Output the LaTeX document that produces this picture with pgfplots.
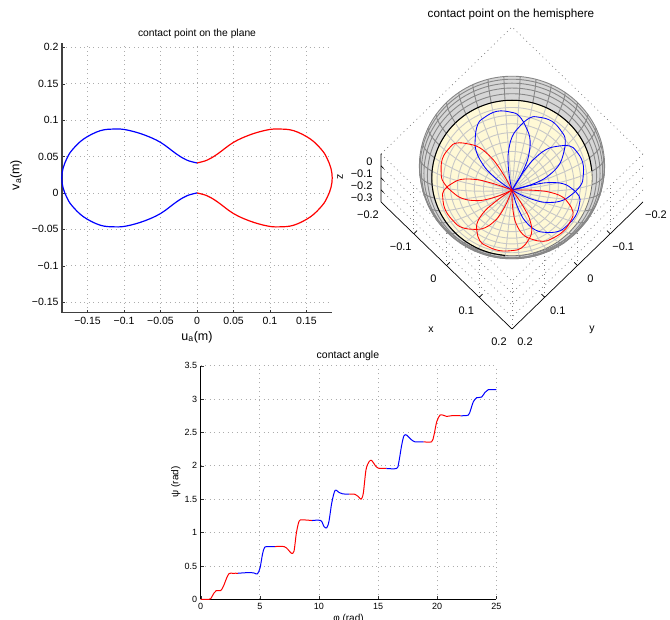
\documentclass[border=0pt]{standalone}
\usepackage{pgfplots}
\usepackage{pgfplotstable}
\usepackage{fontspec}
\setmainfont{Liberation Sans}
\pgfplotsset{compat=1.18}
\newcommand{\fs}[1]{\fontsize{#1}{#1}\selectfont}
\definecolor{cream}{RGB}{255,249,214}
\pgfplotsset{
  flatgrid/.style={grid=major, grid style={line width=.7pt, gray!65, dash pattern=on .9pt off 3.6pt},
    major tick length=3pt, tick align=inside, axis x line*=bottom, axis y line*=left, x axis line style={-}, y axis line style={-},
    tick style={black!80}, clip=false},
}
% unit circle, every 10 degrees
\pgfplotstableread{
c s
1 0
.9848 .1736
.9397 .3420
.8660 .5
.7660 .6428
.6428 .7660
.5 .8660
.3420 .9397
.1736 .9848
0 1
-.1736 .9848
-.3420 .9397
-.5 .8660
-.6428 .7660
-.7660 .6428
-.8660 .5
-.9397 .3420
-.9848 .1736
-1 0
-.9848 -.1736
-.9397 -.3420
-.8660 -.5
-.7660 -.6428
-.6428 -.7660
-.5 -.8660
-.3420 -.9397
-.1736 -.9848
0 -1
.1736 -.9848
.3420 -.9397
.5 -.8660
.6428 -.7660
.7660 -.6428
.8660 -.5
.9397 -.3420
.9848 -.1736
1 0
}\tabcirc
% hemisphere profile, inner part
\pgfplotstableread{
r z
0 -.2
.0209 -.1989
.0416 -.1956
.0618 -.1902
.0813 -.1827
.1 -.1732
.1176 -.1618
.1338 -.1486
.1486 -.1338
.1618 -.1176
.1732 -.1
}\tabinner
\pgfplotstableread{
r z
.1732 -.1
.1827 -.0813
.1902 -.0618
.1956 -.0416
.1989 -.0209
.2 0
}\tabouter
% one lobe of the contact curve on the hemisphere: angle from the lobe's peak, radius
\pgfplotstableread{
a r
-46 0
-45 .015
-44 .03
-41.5 .056
-38.6 .08
-33 .109
-26 .129
-18 .148
-11 .154
0 .158
11 .154
18 .148
26 .129
33 .109
38.6 .08
41.5 .056
44 .03
45 .015
46 0
}\tablobe
\newcommand{\ring}[3]{\addplot3[#3, smooth, tension=.55] table[z index=0, x expr=\thisrow{c}*#1, y expr=\thisrow{s}*#1, z expr=#2]{\tabcirc};}
\newcommand{\lobe}[2]{\addplot3[#2, line width=.85pt, smooth, tension=.7] table[z index=0, x expr={\thisrow{r}*cos(#1+\thisrow{a})}, y expr={\thisrow{r}*sin(#1+\thisrow{a})}, z expr={-sqrt(.04-\thisrow{r}*\thisrow{r})}]{\tablobe};}
\begin{document}
\begin{tikzpicture}[x=1pt,y=1pt]
\path[use as bounding box] (0,0) rectangle (670,620);
% ---------- plane
\begin{axis}[flatgrid, scale only axis, width=270pt, height=269.4pt,
  at={(62pt,307.3pt)}, anchor=south west,
  xmin=-.185, xmax=.185, ymin=-.1645, ymax=.2056,
  axis line style={line width=1.1pt, black!75},
  xtick={-.15,-.1,-.05,0,.05,.1,.15}, ytick={-.15,-.1,-.05,0,.05,.1,.15,.2},
  xticklabels={−0.15,−0.1,−0.05,0,0.05,0.1,0.15},
  yticklabels={−0.15,−0.1,−0.05,0,0.05,0.1,0.15,0.2},
  tick label style={font=\fs{10.5}}, xticklabel style={yshift=-1pt},
  title={\fs{10.3}contact point on the plane},
  title style={at={(axis description cs:.5,1.012)},anchor=center},
  xlabel={\fs{12.5}u\textsubscript{a}(m)},
  xlabel style={at={(axis description cs:.5,-.09)},anchor=center},
  ylabel={\fs{12.5}v\textsubscript{a}(m)},
  ylabel style={at={(axis description cs:-.17,.511)},anchor=center,rotate=0},
]
\addplot[red, line width=1.2pt, smooth, tension=.6] coordinates {(0,.0412)(.0137,.045)(.0274,.053)(.05,.0695)(.073,.08)(.096,.0865)(.112,.0878)(.1327,.0855)(.1555,.074)(.1715,.0585)(.1785,.047)(.1835,.034)(.1853,.0206)(.1835,.007)(.1785,-.006)(.1715,-.0173)(.1555,-.0328)(.1327,-.0443)(.112,-.0466)(.096,-.0453)(.073,-.0388)(.05,-.0283)(.0274,-.0118)(.0137,-.0038)(0,0)};
\addplot[blue, line width=1.2pt, smooth, tension=.6] coordinates {(0,.0412)(-.0137,.045)(-.0274,.053)(-.05,.0695)(-.073,.08)(-.096,.0865)(-.112,.0878)(-.1327,.0855)(-.1555,.074)(-.1715,.0585)(-.1785,.047)(-.1835,.034)(-.1853,.0206)(-.1835,.007)(-.1785,-.006)(-.1715,-.0173)(-.1555,-.0328)(-.1327,-.0443)(-.112,-.0466)(-.096,-.0453)(-.073,-.0388)(-.05,-.0283)(-.0274,-.0118)(-.0137,-.0038)(0,0)};
\end{axis}
% ---------- hemisphere
\begin{axis}[at={(512pt,454pt)}, anchor=origin,
  x={(327.5pt,-317.5pt)}, y={(-327.5pt,-317.5pt)}, z={(0pt,120pt)},
  xmin=-.2, xmax=.2, ymin=-.2, ymax=.2, zmin=-.3, zmax=.1, clip=false,
  axis line style={draw=none},
  xtick={-.2,-.1,0,.1,.2}, ytick={-.2,-.1,0,.1,.2}, ztick={-.3,-.2,-.1,0},
  xticklabels={−0.2,−0.1,0,0.1,0.2}, yticklabels={−0.2,−0.1,0,0.1,0.2}, zticklabels={−0.3,−0.2,−0.1,0},
  tick label style={font=\fs{11}},
  xticklabel style={anchor=center,xshift=-13pt,yshift=-13pt},
  yticklabel style={anchor=center,xshift=13pt,yshift=-13pt},
  zticklabel style={anchor=east,xshift=-5pt,yshift=4pt},
  xtick pos=left, ytick pos=left, ztick pos=left,
  major tick length=0pt, tick style={draw=none},
  no marks,
]
% dotted frame lines
\addplot3[gray, line width=.7pt, dash pattern=on .9pt off 3.6pt] coordinates {(-.2,.2,.1)(-.2,-.2,.1)(.2,-.2,.1)};
\pgfplotsinvokeforeach{-.2,-.1,0,.1}{
  \addplot3[gray, line width=.7pt, dash pattern=on .9pt off 3.6pt] coordinates {(-.2,.2,#1)(.2,.2,#1)};
  \addplot3[gray, line width=.7pt, dash pattern=on .9pt off 3.6pt] coordinates {(.2,-.2,#1)(.2,.2,#1)};
}
\pgfplotsinvokeforeach{-.1,0,.1,.2}{
  \addplot3[gray, line width=.7pt, dash pattern=on .9pt off 3.6pt] coordinates {(#1,.2,-.3)(#1,.2,.1)};
  \addplot3[gray, line width=.7pt, dash pattern=on .9pt off 3.6pt] coordinates {(.2,#1,-.3)(.2,#1,.1)};
}
% axis lines
\addplot3[black, line width=.7pt] coordinates {(-.2,.2,.1)(-.2,.2,-.3)(.2,.2,-.3)(.2,-.2,-.3)};
% tick marks
\pgfplotsinvokeforeach{-.1,0,.1}{
  \addplot3[black, line width=.7pt] coordinates {(#1,.2,-.3)(#1,.19,-.3)};
  \addplot3[black, line width=.7pt] coordinates {(.2,#1,-.3)(.19,#1,-.3)};
}
\pgfplotsinvokeforeach{-.2,-.1,0}{
  \addplot3[black, line width=.7pt] coordinates {(-.2,.2,#1)(-.192,.2,#1)};
}
% outer band of the hemisphere
\ring{.2}{0}{fill=black!16,draw=none}
\ring{.1989}{-.0209}{fill=black!16,draw=none}
\ring{.1956}{-.0416}{fill=black!16,draw=none}
\ring{.1902}{-.0618}{fill=black!16,draw=none}
\ring{.1827}{-.0813}{fill=black!16,draw=none}
\ring{.2}{0}{draw=black!47,line width=.9pt}
\ring{.1989}{-.0209}{draw=black!47,line width=.9pt}
\ring{.1956}{-.0416}{draw=black!47,line width=.9pt}
\ring{.1902}{-.0618}{draw=black!47,line width=.9pt}
\ring{.1827}{-.0813}{draw=black!47,line width=.9pt}
\pgfplotsinvokeforeach{0,10,...,350}{
  \addplot3[black!47,line width=.9pt] table[x expr={\thisrow{r}*cos(#1)}, y expr={\thisrow{r}*sin(#1)}, z expr=\thisrow{z}, z index=0]{\tabouter};
}
% inner part
\ring{.1732}{-.1}{fill=cream,draw=black!55,line width=.8pt}
\pgfplotsinvokeforeach{0,10,...,350}{
  \addplot3[black!22,line width=.9pt] table[x expr={\thisrow{r}*cos(#1)}, y expr={\thisrow{r}*sin(#1)}, z expr=\thisrow{z}, z index=0]{\tabinner};
}
\ring{.0209}{-.1989}{draw=black!22,line width=.9pt}
\ring{.0416}{-.1956}{draw=black!22,line width=.9pt}
\ring{.0618}{-.1902}{draw=black!22,line width=.9pt}
\ring{.0813}{-.1827}{draw=black!22,line width=.9pt}
\ring{.1}{-.1732}{draw=black!22,line width=.9pt}
\ring{.1176}{-.1618}{draw=black!22,line width=.9pt}
\ring{.1338}{-.1486}{draw=black!22,line width=.9pt}
\ring{.1486}{-.1338}{draw=black!22,line width=.9pt}
\ring{.1618}{-.1176}{draw=black!22,line width=.9pt}
% black arc of the rim
\addplot3[black,line width=1pt,smooth,tension=.55] table[z index=0, x expr=\thisrow{c}*.1732, y expr=\thisrow{s}*.1732, z expr=-.1, skip coords between index={0}{5}, skip coords between index={32}{37}]{\tabcirc};
% contact curve
\lobe{-147}{blue}
\lobe{-102}{blue}
\lobe{-60}{blue}
\lobe{-15}{blue}
\lobe{0}{red}
\lobe{55}{red}
\lobe{110}{red}
\lobe{153}{red}
\end{axis}
\node[font=\fs{11.7}] at (511,606) {contact point on the hemisphere};
\node[font=\fs{10.5}] at (431,290) {x};
\node[font=\fs{10.5}] at (592,290) {y};
\node[font=\fs{10.5},rotate=90] at (340,443) {z};
% ---------- contact angle
\begin{axis}[flatgrid, scale only axis, width=295.6pt, height=233.6pt,
  at={(200.7pt,20.7pt)}, anchor=south west,
  xmin=0, xmax=25, ymin=0, ymax=3.5,
  axis line style={line width=.8pt, black},
  xtick={0,5,...,25}, ytick={0,.5,...,3.5},
  xticklabels={0,5,10,15,20,25}, yticklabels={0,0.5,1,1.5,2,2.5,3,3.5},
  tick label style={font=\fs{9}}, 
  title={\fs{10.5}contact angle},
  title style={at={(axis description cs:.498,1.016)},anchor=center},
  xlabel={\fs{10}φ (rad)},
  xlabel style={at={(axis description cs:.5,-.084)},anchor=center},
  ylabel={\fs{10}ψ (rad)},
  ylabel style={at={(axis description cs:-.084,.502)},anchor=center,rotate=0},
]
\addplot[red, line width=1pt, smooth, tension=.5] coordinates {(0,0)(.7,0)(.85,.01)(1.13,.095)(1.32,.13)(1.69,.13)(1.92,.195)(2.2,.32)(2.4,.385)(2.7,.39)(3.14,.39)};
\addplot[blue, line width=1pt, smooth, tension=.5] coordinates {(3.14,.39)(4.0,.4)(4.5,.395)(4.79,.38)(5.02,.47)(5.22,.67)(5.41,.78)(5.78,.79)(6.28,.79)};
\addplot[red, line width=1pt, smooth, tension=.5] coordinates {(6.28,.79)(7.05,.79)(7.39,.745)(7.67,.69)(7.89,.72)(8.09,.99)(8.32,1.17)(8.6,1.19)(9.42,1.18)};
\addplot[blue, line width=1pt, smooth, tension=.5] coordinates {(9.42,1.18)(10.15,1.18)(10.43,1.09)(10.66,1.07)(10.85,1.17)(11.08,1.44)(11.36,1.63)(11.7,1.6)(12,1.58)(12.57,1.575)};
\addplot[red, line width=1pt, smooth, tension=.5] coordinates {(12.57,1.575)(13.05,1.573)(13.33,1.54)(13.56,1.5)(13.75,1.587)(13.98,1.94)(14.23,2.06)(14.46,2.08)(14.74,2.01)(15.02,1.965)(15.71,1.96)};
\addplot[blue, line width=1pt, smooth, tension=.5] coordinates {(15.71,1.96)(16.57,1.96)(16.74,2.04)(17,2.31)(17.19,2.45)(17.42,2.46)(17.76,2.4)(18.12,2.36)(18.85,2.36)};
\addplot[red, line width=1pt, smooth, tension=.5] coordinates {(18.85,2.36)(19.53,2.36)(19.73,2.46)(19.96,2.66)(20.24,2.76)(20.52,2.757)(20.8,2.74)(21.2,2.75)(21.99,2.75)};
\addplot[blue, line width=1pt, smooth, tension=.5] coordinates {(21.99,2.75)(22.63,2.76)(22.83,2.84)(23.06,2.96)(23.34,3.02)(23.76,3.03)(24.04,3.1)(24.32,3.14)(25,3.14)};
\end{axis}
\end{tikzpicture}
\end{document}
